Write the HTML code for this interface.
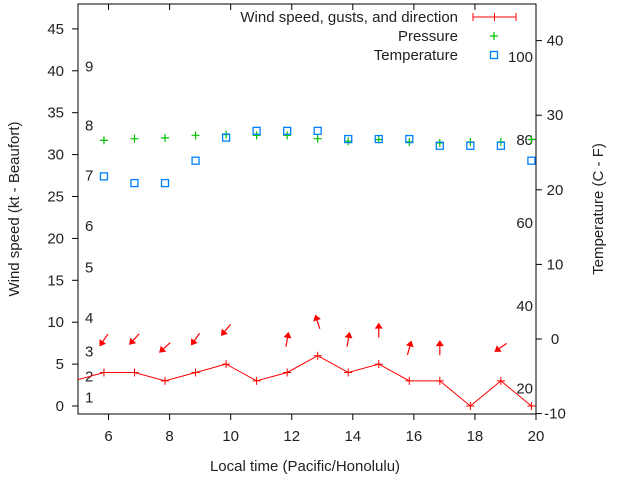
<!DOCTYPE html>
<html><head><meta charset="utf-8"><style>
html,body{margin:0;padding:0;background:#fff}
svg{display:block;font-family:"Liberation Sans",sans-serif}
</style></head><body>
<svg id="chart" width="640" height="480" viewBox="0 0 640 480" xmlns="http://www.w3.org/2000/svg">
<g id="grid"></g>
</svg>
<script>
const hours=[4.85,5.85,6.85,7.85,8.85,9.85,10.85,11.85,12.85,13.85,14.85,15.85,16.85,17.85,18.85,19.85];
const windSpeed=[3,4,4,3,4,5,3,4,6,4,5,3,3,0,3,0];
const gust=[null,7.9,8.0,7.0,8.0,9.1,null,7.9,10,7.9,9.0,6.9,6.9,null,7.0,null];
const heading=[null,215,222,228,215,220,null,10,342,10,0,15,0,null,235,null];
const pressure=[null,31.7,31.9,32.0,32.3,32.4,32.3,32.3,31.9,31.6,31.8,31.5,31.4,31.5,31.5,31.8];
const tempC=[null,21.8,20.9,20.9,23.9,27.0,27.9,27.9,27.9,26.8,26.8,26.8,25.9,25.9,25.9,23.9];
const xTicks=[6,8,10,12,14,16,18,20];
const yTicks=[0,5,10,15,20,25,30,35,40,45];
const y2Ticks=[-10,0,10,20,30,40];
const fTicks=[20,40,60,80,100];
const beaufort=[1,2,3,4,5,6,7,8,9];
const beaufortKt=[1,3.5,6.5,10.5,16.5,21.5,27.5,33.5,40.5];

const L=78,R=536,T=4,B=414;
const X=h=>L+(h-5)*(R-L)/15;
const Y=v=>406-v*8.38;
const Y2=c=>339-c*7.46;
const svg=document.getElementById('chart');
const NS='http://www.w3.org/2000/svg';
function mk(tag,attrs,parent){const e=document.createElementNS(NS,tag);for(const k in attrs)e.setAttribute(k,attrs[k]);(parent||svg).appendChild(e);return e;}
function txt(s,x,y,anchor,parent,extra){const e=mk('text',Object.assign({x:x,y:y,'font-size':15,'text-anchor':anchor,fill:'#222'},extra||{}),parent);e.textContent=s;return e;}

const clip=mk('clipPath',{id:'pc'});mk('rect',{x:L,y:T,width:R-L,height:B-T},clip);

// axes frame
const frame=mk('rect',{x:L,y:T,width:R-L,height:B-T,fill:'none',stroke:'#000','stroke-width':1});


xTicks.forEach(t=>{const x=X(t);
 mk('line',{x1:x,y1:B,x2:x,y2:B+6,stroke:'#000'});mk('line',{x1:x,y1:T,x2:x,y2:T+6,stroke:'#000'});
 const e=txt(String(t),x,441,'middle');});
yTicks.forEach(t=>{const y=Y(t);
 mk('line',{x1:L-6,y1:y,x2:L,y2:y,stroke:'#000'});
 const e=txt(String(t),64,y+5,'end');});
y2Ticks.forEach(t=>{const y=Y2(t);
 mk('line',{x1:R,y1:y,x2:R+6,y2:y,stroke:'#000'});
 const e=txt(String(t),555,y+5,'middle');});
fTicks.forEach(f=>{const c=(f-32)*5/9;
 const e=txt(String(f),533,Y2(c)+5,'end');});
beaufort.forEach((b,i)=>{
 const e=txt(String(b),85,Y(beaufortKt[i])+5,'start');});

let e=txt('Local time (Pacific/Honolulu)',305,471,'middle');
e=txt('Wind speed (kt - Beaufort)',0,0,'middle',null,{transform:'translate(19,209) rotate(-90)'});
e=txt('Temperature (C - F)',0,0,'middle',null,{transform:'translate(603,209) rotate(-90)'});

const g=mk('g',{'clip-path':'url(#pc)'});
// wind line
const pts=hours.map((h,i)=>X(h)+','+Y(windSpeed[i])).join(' ');
const pl=mk('polyline',{points:pts,fill:'none',stroke:'#f00','stroke-width':1},g);

hours.forEach((h,i)=>{const x=X(h),y=Y(windSpeed[i]);
 const p=mk('path',{d:`M${x-4},${y}H${x+4}M${x},${y-4}V${y+4}`,stroke:'#f00'},g);
 });
// arrows
hours.forEach((h,i)=>{if(gust[i]==null)return;const cx=X(h),cy=Y(gust[i]);
 const a=mk('g',{transform:`translate(${cx},${cy}) rotate(${heading[i]})`},g);
 
 mk('line',{x1:0,y1:7,x2:0,y2:-4,stroke:'#f00','stroke-width':1.2},a);
 mk('path',{d:'M0,-8 L-4,-2 L4,-2 Z',fill:'#f00'},a);});
// pressure
hours.forEach((h,i)=>{if(pressure[i]==null)return;const x=X(h),y=Y(pressure[i]);
 const p=mk('path',{d:`M${x-4},${y}H${x+4}M${x},${y-4}V${y+4}`,stroke:'#00c000','stroke-width':1.2},g);
 });
// temperature
hours.forEach((h,i)=>{if(tempC[i]==null)return;const x=X(h),y=Y2(tempC[i]);
 const r=mk('rect',{x:x-3.5,y:y-3.5,width:7,height:7,fill:'none',stroke:'#0080ff','stroke-width':1.3},g);
 });

// legend
const lg=mk('g',{});
e=txt('Wind speed, gusts, and direction',458,22,'end',lg);
mk('path',{d:'M473,17H516M473,13V21M516,13V21M494.5,13V21',stroke:'#f00'},lg);
e=txt('Pressure',458,41,'end',lg);
mk('path',{d:'M490,36H498M494,32V40',stroke:'#00c000','stroke-width':1.2},lg);
e=txt('Temperature',458,60,'end',lg);
mk('rect',{x:490.5,y:51.5,width:7,height:7,fill:'none',stroke:'#0080ff','stroke-width':1.3},lg);
</script>
</body></html>
